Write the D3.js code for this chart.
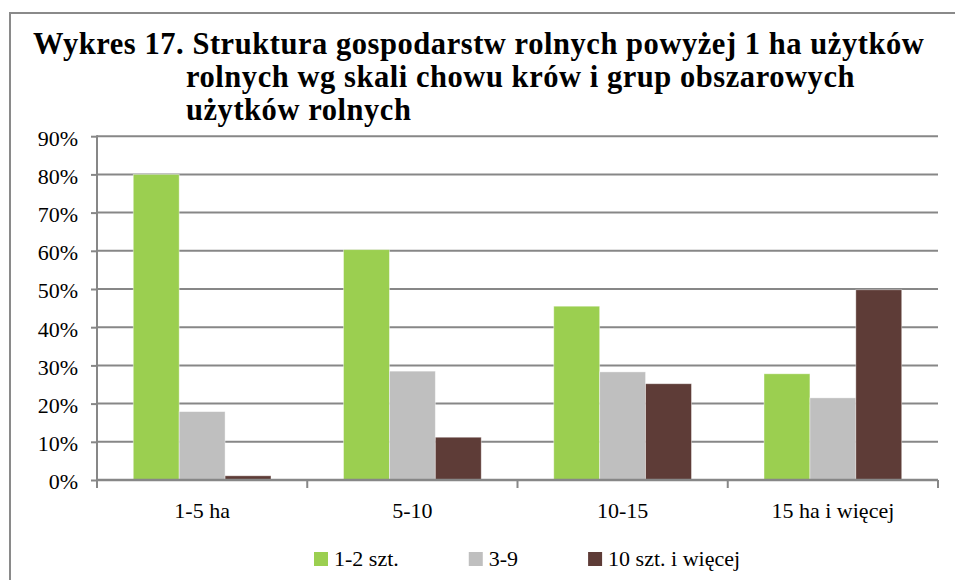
<!DOCTYPE html>
<html>
<head>
<meta charset="utf-8">
<script src="https://cdn.jsdelivr.net/npm/d3@7"></script>
<style>
  body { margin: 0; background: #fff; }
</style>
</head>
<body>
<div id="chart"></div>
<script>
// Chart data
var categories = ["1-5 ha", "5-10", "10-15", "15 ha i więcej"];
var seriesNames = ["1-2 szt.", "3-9", "10 szt. i więcej"];
var values12 = [0.80, 0.603, 0.455, 0.278];
var values39 = [0.179, 0.285, 0.283, 0.215];
var values10plus = [0.011, 0.112, 0.252, 0.498];
var yTicks = [0, 0.1, 0.2, 0.3, 0.4, 0.5, 0.6, 0.7, 0.8, 0.9];
var titleLines = [
  "Wykres 17. Struktura gospodarstw rolnych powyżej 1 ha użytków",
  "rolnych wg skali chowu krów i grup obszarowych",
  "użytków rolnych"
];

var colors = ["#9BCF50", "#BFBFBF", "#5E3C37"];
var serif = "'Liberation Serif', 'Times New Roman', serif";

// SVG area
var svgWidth = 955;
var svgHeight = 580;

// plot area in pixels
var plot = { left: 97, right: 938, top: 136.2, bottom: 480 };

var svg = d3.select("#chart")
  .append("svg")
  .attr("width", svgWidth)
  .attr("height", svgHeight);

// outer frame (left and top edges visible, rest runs off the picture)
svg.append("path")
  .attr("d", "M10,590 L10,13 L965,13")
  .attr("fill", "none")
  .attr("stroke", "#8a8a8a")
  .attr("stroke-width", 2);

// title
var titleX = [33, 186, 186];
svg.append("g")
  .selectAll("text")
  .data(titleLines)
  .enter()
  .append("text")
  .attr("x", (d, i) => titleX[i])
  .attr("y", (d, i) => 54 + i * 33)
  .style("font-family", serif)
  .style("font-size", "30.5px")
  .style("font-weight", "bold")
  .style("letter-spacing", "0.55px")
  .text(d => d);

// scales
var x0 = d3.scaleBand()
  .domain(categories)
  .range([plot.left, plot.right])
  .padding(0);

var x1 = d3.scaleBand()
  .domain(seriesNames)
  .range([0, x0.bandwidth()])
  .paddingInner(0)
  .paddingOuter(0.79);

var y = d3.scaleLinear()
  .domain([0, 0.9])
  .range([plot.bottom, plot.top]);

// gridlines
svg.append("g")
  .selectAll("line")
  .data(yTicks.slice(1))
  .enter()
  .append("line")
  .attr("x1", plot.left)
  .attr("x2", plot.right)
  .attr("y1", d => y(d))
  .attr("y2", d => y(d))
  .attr("stroke", "#878787")
  .attr("stroke-width", 2);

// bars
var seriesValues = [values12, values39, values10plus];
var rows = [];
categories.forEach(function(cat, ci) {
  seriesNames.forEach(function(s, si) {
    rows.push({ cat: cat, series: s, idx: si, value: seriesValues[si][ci] });
  });
});

svg.append("g")
  .selectAll("rect")
  .data(rows)
  .enter()
  .append("rect")
  .attr("x", d => x0(d.cat) + x1(d.series))
  .attr("y", d => y(d.value))
  .attr("width", x1.bandwidth())
  .attr("height", d => y(0) - y(d.value))
  .attr("fill", d => colors[d.idx])
  .attr("stroke", "#ffffff")
  .attr("stroke-opacity", 0.5)
  .attr("stroke-width", 0.8);

// y axis
var leftAxis = d3.axisLeft(y)
  .tickValues(yTicks)
  .tickFormat(d3.format(".0%"))
  .tickSize(6)
  .tickPadding(13);

var yAxis = svg.append("g")
  .attr("transform", `translate(${plot.left}, 0)`)
  .call(leftAxis);

yAxis.select(".domain")
  .attr("stroke", "#878787")
  .attr("stroke-width", 2)
  .attr("d", `M0,${plot.top - 1}V${plot.bottom + 8}`);
yAxis.selectAll(".tick line").attr("stroke", "#878787").attr("stroke-width", 2);
yAxis.selectAll("text")
  .style("font-family", serif)
  .style("font-size", "22px")
  .attr("fill", "#000")
  .attr("dy", "0.4em");

// x axis
var bottomAxis = d3.axisBottom(x0)
  .tickSize(0)
  .tickPadding(22);

var xAxis = svg.append("g")
  .attr("transform", `translate(0, ${plot.bottom})`)
  .call(bottomAxis);

xAxis.select(".domain")
  .attr("stroke", "#878787")
  .attr("stroke-width", 2.5)
  .attr("d", `M${plot.left},0H${plot.right}`);
xAxis.selectAll("text")
  .style("font-family", serif)
  .style("font-size", "22px")
  .attr("fill", "#000");

// category boundary ticks
var boundaries = categories.map(c => x0(c)).concat([plot.right]);
xAxis.append("g")
  .selectAll("line")
  .data(boundaries)
  .enter()
  .append("line")
  .attr("x1", d => d)
  .attr("x2", d => d)
  .attr("y1", 0)
  .attr("y2", 8)
  .attr("stroke", "#878787")
  .attr("stroke-width", 2);

// legend
var legend = svg.append("g");
var lx = 314;
seriesNames.forEach(function(name, i) {
  legend.append("rect")
    .attr("x", lx)
    .attr("y", 552)
    .attr("width", 14)
    .attr("height", 14)
    .attr("fill", colors[i]);
  var t = legend.append("text")
    .attr("x", lx + 20)
    .attr("y", 566)
    .style("font-family", serif)
    .style("font-size", "22px")
    .text(name);
  lx += 20 + t.node().getComputedTextLength() + 70;
});
</script>
</body>
</html>
